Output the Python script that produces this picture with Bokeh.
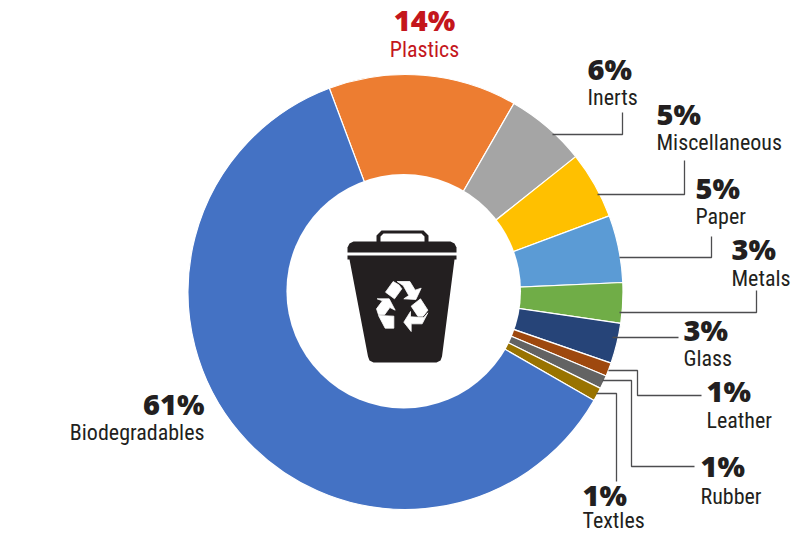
from math import radians

from bokeh.core.properties import value
from bokeh.embed import file_html
from bokeh.models import Range1d
from bokeh.plotting import figure
from bokeh.resources import INLINE

# Waste composition, percent of total, clockwise from the plastics slice
categories = ["Plastics", "Inerts", "Miscellaneous", "Paper", "Metals", "Glass",
              "Leather", "Rubber", "Textles", "Biodegradables"]
shares = [14, 6, 5, 5, 3, 3, 1, 1, 1, 61]
colors = ["#ed7d31", "#a5a5a5", "#ffc000", "#5b9bd5", "#70ad47", "#264478",
          "#9e480e", "#636363", "#997300", "#4472c4"]

W, H = 796, 533
INK = "#231f20"
RED = "#c4161c"
CX, CY, R_OUT = 405, 291.5, 217.5
HOLE_X, HOLE_Y, HOLE_R = 403.2, 290.7, 117.3
START_DEG = -20.5
PCT_SIZE, NAME_SIZE = 29, 22
# SVG text sits a fraction of an em under the requested baseline
PCT_LIFT, NAME_LIFT = 0.36 * PCT_SIZE + 2.5, 0.36 * NAME_SIZE + 1


def y(py):
    return H - py


p = figure(width=W, height=H, output_backend="svg", toolbar_location=None,
           x_range=Range1d(0, W), y_range=Range1d(0, H), min_border=0,
           outline_line_color=None, background_fill_color="white",
           border_fill_color="white")
p.axis.visible = False
p.grid.visible = False

# Ring slices, with the hole laid over them
running = START_DEG
for share, color in zip(shares, colors):
    sweep = share * 3.6
    start_ang = radians(90 - running - sweep)
    end_ang = radians(90 - running)
    p.wedge(x=[CX], y=[y(CY)], radius=R_OUT, start_angle=start_ang, end_angle=end_ang,
            direction="anticlock", fill_color=color, line_color="white", line_width=1.2)
    running += sweep
p.circle(x=[HOLE_X], y=[y(HOLE_Y)], radius=HOLE_R, fill_color="white", line_color=None)

# Leader lines from the slices to their labels
leaders = {
    "Inerts": [(552, 134), (622, 134), (622, 112)],
    "Miscellaneous": [(597, 194), (684, 194), (684, 160)],
    "Paper": [(619, 257), (711, 257), (711, 236)],
    "Metals": [(619, 312), (756, 312), (756, 290)],
    "Glass": [(612, 337), (678, 337)],
    "Leather": [(608, 370), (637, 370), (637, 395), (701, 395)],
    "Rubber": [(602, 380), (631, 380), (631, 466), (694, 466)],
    "Textles": [(596, 393), (616, 393), (616, 481)],
}
for pts in leaders.values():
    p.line([q[0] for q in pts], [y(q[1]) for q in pts], line_color="#4d4d4f", line_width=1.3)

# Label anchors: x, percent baseline, name baseline, alignment, colour
anchors = {
    "Plastics": (424, 32, 58, "center", RED),
    "Inerts": (587, 81, 106, "left", INK),
    "Miscellaneous": (656, 126, 151, "left", INK),
    "Paper": (695, 200, 225, "left", INK),
    "Metals": (731, 261, 287, "left", INK),
    "Glass": (683, 342, 367, "left", INK),
    "Leather": (706, 403, 429, "left", INK),
    "Rubber": (700, 478, 505, "left", INK),
    "Textles": (582, 507, 529, "left", INK),
    "Biodegradables": (204, 416, 441, "right", INK),
}
for name, share in zip(categories, shares):
    ax, by, ny, align, color = anchors[name]
    p.text(x=[ax], y=[y(by - PCT_LIFT)], text=[f"{share}%"], text_font=value("Open Sans ExtraBold"),
           text_font_style="bold", text_font_size=f"{PCT_SIZE}px", text_align=align,
           text_baseline="alphabetic", text_color=color)
    p.text(x=[ax], y=[y(ny - NAME_LIFT)], text=[name], text_font=value("Roboto Condensed"),
           text_font_size=f"{NAME_SIZE}px", text_align=align, text_baseline="alphabetic",
           text_color=color)

# Bin icon
handle_x = [376, 376, 381, 423, 428, 428, 424, 424, 421, 383, 380, 380]
handle_y = [243, 235, 230, 230, 235, 243, 243, 236, 233, 233, 236, 243]
p.patch(handle_x, [y(v) for v in handle_y], fill_color=INK, line_color=None)
lid_x = [347, 347, 349, 353, 450, 454, 456, 456]
lid_y = [252, 247, 243, 241, 241, 243, 247, 252]
p.patch(lid_x, [y(v) for v in lid_y], fill_color=INK, line_color=None)
body_x = [347, 456, 456, 454, 441.5, 440, 436, 373, 369, 367.5, 349, 347]
body_y = [255, 255, 259, 259, 356, 360, 362, 362, 360, 356, 259, 259]
p.patch(body_x, [y(v) for v in body_y], fill_color=INK, line_color=None)

# Recycling arrows
recycle = [
    [(45, 50), (68, 18), (85, 28), (94, 40), (72, 70)],
    [(80, 18), (118, 18), (134, 44), (152, 38), (136, 72), (100, 70), (115, 60), (98, 30)],
    [(122, 92), (150, 70), (172, 104), (158, 122), (142, 122)],
    [(172, 112), (155, 145), (122, 145), (122, 168), (100, 140), (120, 108), (120, 124), (160, 126)],
    [(24, 120), (70, 122), (70, 158), (44, 158)],
    [(18, 100), (36, 76), (20, 70), (56, 70), (74, 104), (58, 96), (42, 118), (24, 118)],
]
for shape in recycle:
    p.patch([370 + q[0] / 3 for q in shape], [y(275 + q[1] / 3) for q in shape],
            fill_color="white", line_color="white", line_width=0.8)

open("out.html", "w").write(file_html(p, INLINE))
